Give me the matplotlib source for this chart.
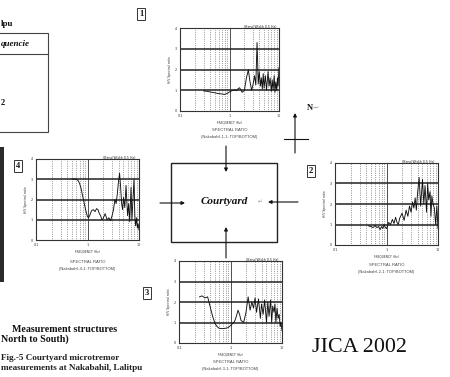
import matplotlib
matplotlib.use('Agg')
import matplotlib.pyplot as plt
from matplotlib.patches import Rectangle
from matplotlib.ticker import NullLocator

# ---------------- data ----------------
freq1 = [0.3, 0.35, 0.4, 0.5, 0.6, 0.7, 0.8, 0.9, 1.0, 1.1,
         1.2, 1.3, 1.4, 1.5, 1.6, 1.8, 2.0, 2.2, 2.4, 2.6,
         2.8, 3.0, 3.2, 3.4, 3.6, 3.7, 3.8, 4.0, 4.2, 4.4,
         4.6, 4.8, 5.0, 5.3, 5.6, 6.0, 6.3, 6.6, 7.0, 7.3,
         7.6, 8.0, 8.3, 8.6, 9.0, 9.3, 9.6, 10.0]
ratio1 = [0.97, 0.95, 0.92, 0.88, 0.84, 0.82, 0.80, 0.85, 0.92, 0.97,
          1.0, 1.02, 0.98, 1.08, 1.12, 0.9, 1.0, 1.6, 1.98, 1.4,
          1.0, 1.3, 1.7, 1.25, 3.3, 2.4, 1.3, 1.9, 1.2, 1.6,
          1.05, 1.8, 1.1, 1.7, 1.0, 1.9, 1.2, 1.6, 0.95, 1.5,
          1.0, 1.7, 0.9, 1.4, 1.0, 1.6, 1.2, 2.1]

freq2 = [0.45, 0.5, 0.55, 0.6, 0.65, 0.7, 0.75, 0.8, 0.85, 0.9,
         0.95, 1.0, 1.1, 1.2, 1.3, 1.4, 1.5, 1.6, 1.7, 1.8,
         2.0, 2.2, 2.4, 2.6, 2.8, 3.0, 3.2, 3.4, 3.6, 3.8,
         4.0, 4.3, 4.6, 5.0, 5.3, 5.6, 6.0, 6.3, 6.6, 7.0,
         7.3, 7.6, 8.0, 8.5, 9.0, 9.5, 10.0]
ratio2 = [0.93, 0.9, 0.85, 0.95, 0.85, 0.9, 0.75, 0.9, 0.8, 1.0,
          0.85, 0.8, 1.1, 1.0, 1.25, 1.05, 1.35, 1.1, 1.0, 1.3,
          1.55, 1.2, 1.7, 1.4, 1.9, 1.6, 2.1, 1.8, 2.3, 1.7,
          2.5, 3.3, 1.9, 3.2, 2.0, 2.9, 1.6, 3.0, 2.2, 2.6,
          1.4, 2.4, 2.0, 1.8, 1.0, 1.9, 0.8]

freq3 = [0.25, 0.28, 0.32, 0.36, 0.4, 0.45, 0.5, 0.55, 0.6, 0.7,
         0.8, 0.9, 1.0, 1.1, 1.2, 1.3, 1.4, 1.5, 1.6, 1.8,
         2.0, 2.2, 2.4, 2.6, 2.8, 3.0, 3.2, 3.5, 3.8, 4.0,
         4.3, 4.6, 5.0, 5.3, 5.6, 6.0, 6.3, 6.6, 7.0, 7.3,
         7.6, 8.0, 8.4, 8.8, 9.2, 9.6, 10.0]
ratio3 = [2.25, 2.3, 2.2, 2.25, 1.8, 1.3, 0.95, 0.8, 0.72, 0.7,
          0.72, 0.75, 0.85, 0.95, 1.05, 1.3, 1.6, 1.4, 1.1, 1.0,
          1.5, 2.25, 1.6, 2.0, 1.7, 2.2, 1.5, 2.15, 1.2, 1.9,
          1.4, 2.1, 1.0, 2.0, 1.3, 2.1, 1.0, 1.8, 1.5, 1.9,
          1.0, 1.7, 1.2, 1.4, 0.8, 1.0, 0.6]

freq4 = [0.5, 0.55, 0.6, 0.65, 0.7, 0.75, 0.8, 0.85, 0.9, 0.95,
         1.0, 1.05, 1.1, 1.2, 1.3, 1.4, 1.5, 1.6, 1.7, 1.8,
         1.9, 2.0, 2.2, 2.4, 2.6, 2.8, 3.0, 3.2, 3.4, 3.6,
         3.8, 4.0, 4.2, 4.4, 4.6, 4.8, 5.0, 5.3, 5.6, 6.0,
         6.3, 6.6, 7.0, 7.3, 7.6, 8.0, 8.3, 8.6, 9.0, 9.3,
         9.6, 10.0]
ratio4 = [3.0, 3.0, 3.0, 2.95, 2.8, 2.55, 2.2, 1.9, 1.6, 1.35,
          1.15, 1.1, 1.2, 1.45, 1.5, 1.4, 1.55, 1.5, 1.3, 1.2,
          1.0, 1.05, 1.3, 1.0, 1.1, 0.95, 1.2, 1.5, 2.0, 1.8,
          2.3, 2.9, 3.3, 2.6, 1.8, 1.5, 2.1, 1.6, 2.7, 1.2,
          1.8, 0.9, 2.6, 1.0, 1.9, 3.0, 1.2, 0.7, 1.1, 0.6,
          0.8, 0.5]

x_ticks = [0.1, 1, 10]
x_tick_labels = ['0.1', '1', '10']
y_ticks = [0, 1, 2, 3, 4]
site_ids = ['1-1', '2-1', '3-1', '4-1']

# ---------------- figure ----------------
W, H = 450, 377
fig = plt.figure(figsize=(4.5, 3.77), dpi=100)
fig.patch.set_facecolor('white')


def px_axes(x0, y0, x1, y1):
    return fig.add_axes([x0 / W, 1 - y1 / H, (x1 - x0) / W, (y1 - y0) / H])


ov = px_axes(0, 0, W, H)
ov.set_xlim(0, W)
ov.set_ylim(H, 0)
ov.axis('off')

SERIF = 'Liberation Serif'
SANS = 'Liberation Sans'


def draw_chart(box, freq, ratio, site, ycap):
    x0, y0, x1, y1 = box
    ax = px_axes(x0, y0, x1, y1)
    ax.set_xscale('log')
    ax.set_xlim(0.1, 10)
    ax.set_ylim(0, 4)
    minors = [m * d for d in (0.1, 1) for m in range(2, 10)]
    for m in minors:
        ax.axvline(m, color='#555', lw=0.6, ls=(0, (0.7, 1.5)), zorder=1)
    ax.axvline(1, color='#333', lw=0.6, zorder=1)
    for yv in (1, 2, 3):
        ax.axhline(yv, color='#222', lw=1.1, zorder=1)
    ax.plot(freq, ratio, color='#111', lw=0.65, zorder=3)
    ax.set_xticks(x_ticks)
    ax.set_xticklabels(x_tick_labels)
    ax.xaxis.set_minor_locator(NullLocator())
    ax.set_yticks(y_ticks)
    ax.tick_params(length=0, labelsize=2.4, pad=2.5, colors='#333')
    ax.set_xlabel('FREQUENCY (Hz)', fontsize=2.2, labelpad=1.5, color='#333')
    ax.set_ylabel('H/V Spectral ratio', fontsize=2.2, labelpad=1.5, color='#333')
    for s in ax.spines.values():
        s.set_color('#333')
        s.set_linewidth(0.8)
    ax.text(0.97, 0.99, '(Band Width 0.5 Hz)', transform=ax.transAxes,
            ha='right', va='bottom', fontsize=2.3, color='#222')
    cx = (x0 + x1) / 2
    ov.text(cx, ycap, 'SPECTRAL RATIO', ha='center', va='center',
            fontsize=3.0, family=SANS, color='#444')
    ov.text(cx, ycap + 7, '(Nakabahil-%s: TOP/BOTTOM)' % site, ha='center',
            va='center', fontsize=2.9, family=SANS, color='#444')
    return ax


draw_chart((180, 28, 279, 111), freq1, ratio1, site_ids[0], 130)
draw_chart((36, 159, 139, 240), freq4, ratio4, site_ids[3], 262)
draw_chart((335, 163, 438, 245), freq2, ratio2, site_ids[1], 265)
draw_chart((179, 261, 282, 343), freq3, ratio3, site_ids[2], 362)

# courtyard box
ov.add_patch(Rectangle((171, 163), 106, 79, fill=False, ec='#222', lw=1.0))
ov.text(224, 201, 'Courtyard', ha='center', va='center', fontsize=8,
        family=SERIF, style='italic', weight='bold', color='#111')
ov.text(258, 202, '\u21b5', ha='left', va='center', fontsize=4, color='#999')

arrow_kw = dict(arrowstyle='-|>', color='#111', lw=0.8, mutation_scale=5,
                shrinkA=0, shrinkB=0)
ov.annotate('', xy=(226, 172), xytext=(226, 146), arrowprops=arrow_kw)
ov.annotate('', xy=(185, 203), xytext=(160, 203), arrowprops=arrow_kw)
ov.annotate('', xy=(268, 202), xytext=(298, 202), arrowprops=arrow_kw)
ov.annotate('', xy=(226, 227), xytext=(226, 258), arrowprops=arrow_kw)

# compass
ov.annotate('', xy=(295, 113), xytext=(295, 153), arrowprops=arrow_kw)
ov.plot([284, 308], [139, 139], color='#111', lw=0.8)
ov.text(307, 108, 'N', ha='left', va='center', fontsize=6, family=SERIF,
        weight='bold', color='#111')
ov.text(313, 108, '\u21b5\u21b5', ha='left', va='center', fontsize=3,
        color='#999')

# numbered boxes
box_style = dict(boxstyle='square,pad=0.2', fc='white', ec='#333', lw=0.7)
for lab, (bx, by) in zip(['1', '4', '2', '3'],
                         [(141, 14), (18, 166), (311, 171), (147, 293)]):
    ov.text(bx, by, lab, ha='center', va='center', fontsize=6.2, family=SERIF,
            weight='bold', color='#111', bbox=box_style)

# left table fragment (only the visible part of the clipped text)
ov.add_patch(Rectangle((-3, 33), 51, 99, fill=False, ec='#444', lw=0.8))
ov.plot([-3, 48], [54, 54], color='#444', lw=0.8)
ov.text(1, 24, 'lpu', ha='left', va='center', fontsize=6.5,
        family=SERIF, weight='bold', color='#111')
ov.text(1, 44, 'quencie', ha='left', va='center', fontsize=6.5,
        family=SERIF, weight='bold', style='italic', color='#111')
ov.text(1, 103, '2', ha='left', va='center', fontsize=6, family=SERIF,
        weight='bold', color='#111')

# dark photo edge strip
ov.add_patch(Rectangle((0, 147), 4, 135, fc='#2b2b2b', ec='none'))

# bottom-left texts
ov.text(12, 329, 'Measurement structures', ha='left', va='center',
        fontsize=7.2, family=SERIF, weight='bold', color='#111')
ov.text(1, 339, 'North to South)', ha='left', va='center', fontsize=7.2,
        family=SERIF, weight='bold', color='#111')
ov.text(1, 358, 'Fig.-5 Courtyard microtremor', ha='left', va='center',
        fontsize=6.6, family=SERIF, weight='bold', color='#222')
ov.text(1, 368, 'measurements at Nakabahil, Lalitpu', ha='left',
        va='center', fontsize=6.6, family=SERIF, weight='bold', color='#222')

ov.text(312, 348, 'JICA 2002', ha='left', va='center', fontsize=15.8,
        family=SERIF, color='#111')

fig.savefig('out.png', dpi=100, facecolor='white')
